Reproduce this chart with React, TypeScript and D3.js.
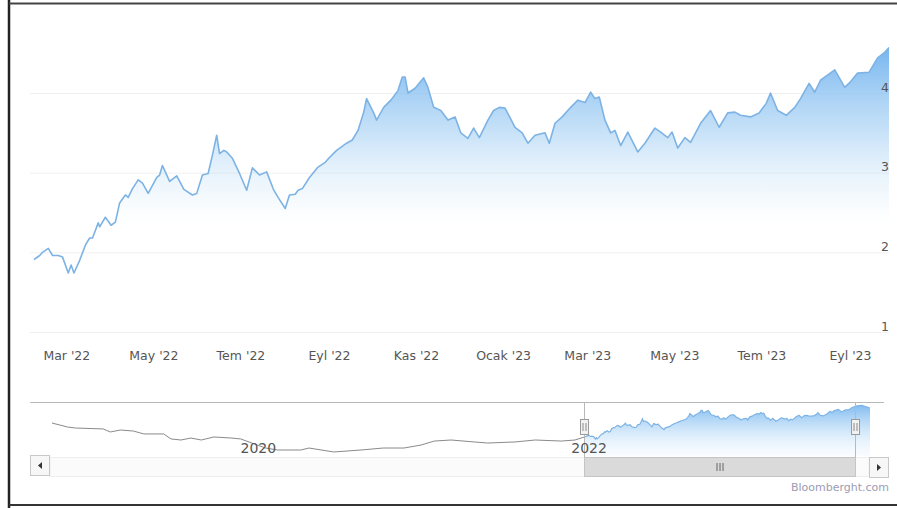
import React from 'react';
import * as d3 from 'd3';

// ---------- DATA ----------
const dates = [
  '2022-02-06','2022-02-10','2022-02-12','2022-02-16','2022-02-19','2022-02-23','2022-02-26','2022-03-02','2022-03-04','2022-03-06',
  '2022-03-10','2022-03-14','2022-03-17','2022-03-19','2022-03-23','2022-03-24','2022-03-28','2022-04-01','2022-04-04','2022-04-07',
  '2022-04-11','2022-04-13','2022-04-16','2022-04-20','2022-04-23','2022-04-27','2022-04-30','2022-05-03','2022-05-05','2022-05-07',
  '2022-05-12','2022-05-17','2022-05-22','2022-05-28','2022-05-31','2022-06-04','2022-06-08','2022-06-11','2022-06-14','2022-06-16',
  '2022-06-19','2022-06-21','2022-06-25','2022-06-30','2022-07-05','2022-07-09','2022-07-14','2022-07-19','2022-07-24','2022-07-27',
  '2022-08-01','2022-08-04','2022-08-08','2022-08-10','2022-08-13','2022-08-18','2022-08-24','2022-08-29','2022-09-01','2022-09-06',
  '2022-09-13','2022-09-17','2022-09-21','2022-09-25','2022-09-27','2022-10-02','2022-10-04','2022-10-09','2022-10-14','2022-10-19',
  '2022-10-22','2022-10-24','2022-10-26','2022-10-31','2022-11-06','2022-11-09','2022-11-13','2022-11-18','2022-11-23','2022-11-28',
  '2022-12-02','2022-12-07','2022-12-11','2022-12-15','2022-12-21','2022-12-25','2022-12-29','2023-01-02','2023-01-09','2023-01-14',
  '2023-01-18','2023-01-23','2023-01-30','2023-02-02','2023-02-06','2023-02-11','2023-02-17','2023-02-22','2023-02-27','2023-03-03',
  '2023-03-06','2023-03-09','2023-03-13','2023-03-17','2023-03-20','2023-03-24','2023-03-29','2023-04-05','2023-04-10','2023-04-17',
  '2023-04-21','2023-04-26','2023-04-29','2023-05-03','2023-05-08','2023-05-12','2023-05-19','2023-05-26','2023-06-01','2023-06-07',
  '2023-06-12','2023-06-16','2023-06-23','2023-06-29','2023-07-04','2023-07-07','2023-07-12','2023-07-18','2023-07-24','2023-07-28',
  '2023-08-03','2023-08-07','2023-08-11','2023-08-21','2023-08-28','2023-09-01','2023-09-06','2023-09-14','2023-09-20','2023-09-25',
  '2023-09-28',
];
const values = [
  1.91,1.96,2.00,2.05,1.96,1.96,1.94,1.74,1.84,1.74,
  1.90,2.09,2.18,2.18,2.37,2.32,2.44,2.34,2.38,2.62,
  2.72,2.69,2.80,2.91,2.87,2.74,2.84,2.94,2.97,3.09,
  2.89,2.96,2.79,2.72,2.74,2.97,2.99,3.22,3.47,3.24,
  3.28,3.26,3.18,2.99,2.78,3.06,2.97,3.01,2.78,2.69,
  2.55,2.72,2.73,2.78,2.80,2.94,3.07,3.13,3.19,3.28,
  3.37,3.41,3.53,3.76,3.93,3.75,3.66,3.82,3.91,4.03,
  4.20,4.20,4.00,4.06,4.19,4.07,3.82,3.78,3.66,3.70,
  3.50,3.43,3.56,3.44,3.66,3.78,3.82,3.81,3.57,3.50,
  3.37,3.47,3.50,3.37,3.62,3.70,3.82,3.91,3.88,4.01,
  3.93,3.95,3.66,3.50,3.53,3.34,3.51,3.26,3.37,3.56,
  3.51,3.44,3.51,3.31,3.44,3.38,3.62,3.78,3.57,3.75,
  3.76,3.72,3.70,3.75,3.87,4.00,3.78,3.72,3.82,3.93,
  4.12,4.01,4.16,4.29,4.07,4.14,4.25,4.26,4.44,4.51,
  4.57,
];

const xTickDates = ['2022-03-01','2022-05-01','2022-07-01','2022-09-01','2022-11-01','2023-01-01','2023-03-01','2023-05-01','2023-07-01','2023-09-01'];
const xTickLabels = ["Mar '22","May '22","Tem '22","Eyl '22","Kas '22","Ocak '23","Mar '23","May '23","Tem '23","Eyl '23"];
const yTicks = [1, 2, 3, 4];

// navigator: history before the selected range, and after it
const navHistDates = [
  '2018-11-17','2018-12-21','2019-01-08','2019-03-10','2019-03-26','2019-04-17','2019-05-16','2019-06-08','2019-07-22','2019-08-07',
  '2019-08-29','2019-09-20','2019-10-13','2019-11-10','2019-12-18','2020-01-08','2020-03-03','2020-03-30','2020-05-20','2020-06-07',
  '2020-08-01','2020-09-30','2020-11-18','2021-01-03','2021-02-10','2021-03-11','2021-04-17','2021-06-08','2021-07-07','2021-09-05',
  '2021-10-20','2021-12-17','2022-01-16',
];
const navHistValues = [
  3.11,2.77,2.68,2.60,2.34,2.51,2.42,2.17,2.17,1.74,
  1.65,1.82,1.65,1.91,1.82,1.74,0.96,0.79,0.79,0.96,
  0.62,0.79,0.96,0.96,1.22,1.56,1.65,1.48,1.39,1.48,
  1.65,1.56,1.65,
];
const navTailDates = ['2023-10-12','2023-10-30'];
const navTailValues = [4.62, 4.40];
const navYearDates = ['2020-01-01','2022-01-01'];
const navYearLabels = ['2020','2022'];
const creditText = 'Bloomberght.com';

type P = { date: Date; value: number };

export default function App() {
  const parse = d3.timeParse('%Y-%m-%d');
  const series: P[] = dates.map((d, i) => ({ date: parse(d)!, value: values[i] }));
  const hist: P[] = navHistDates.map((d, i) => ({ date: parse(d)!, value: navHistValues[i] }));
  const tail: P[] = navTailDates.map((d, i) => ({ date: parse(d)!, value: navTailValues[i] }));

  // main chart scales
  const plotBottom = 332;
  const x = d3.scaleTime().domain(d3.extent(series, d => d.date) as [Date, Date]).range([34, 889]);
  const y = d3.scaleLinear().domain([1, 4]).range([plotBottom, 93]);
  const line = d3.line<P>().x(d => x(d.date)).y(d => y(d.value));
  const area = d3.area<P>().x(d => x(d.date)).y0(plotBottom).y1(d => y(d.value));

  // navigator scales
  const navAll = [...hist, ...series, ...tail];
  const nx = d3.scaleTime().domain(d3.extent(navAll, d => d.date) as [Date, Date]).range([52, 870]);
  const ny = d3.scaleLinear().domain([0.36, 4.66]).range([455, 405]);
  const nLine = d3.line<P>().x(d => nx(d.date)).y(d => ny(d.value));
  const nArea = d3.area<P>().x(d => nx(d.date)).y0(456).y1(d => ny(d.value));
  const blueNav = [...series, ...tail];
  const grayNav = [...hist, series[0]];
  const selL = nx(series[0].date);
  const selR = nx(series[series.length - 1].date);

  const font = 'DejaVu Sans, Verdana, sans-serif';

  const handle = (hx: number) => (
    <g>
      <rect x={hx - 4} y={419.5} width={8} height={15} fill="#f2f2f2" stroke="#9a9a9a" strokeWidth={1} />
      <line x1={hx - 1.5} x2={hx - 1.5} y1={423} y2={431} stroke="#8a8a8a" />
      <line x1={hx + 1.5} x2={hx + 1.5} y1={423} y2={431} stroke="#8a8a8a" />
    </g>
  );

  const gripX = (selL + selR) / 2;

  return (
    <svg width={897} height={508} style={{ position: 'fixed', left: 0, top: 0, background: '#fff' }}>
      <defs>
        <linearGradient id="mainFill" gradientUnits="userSpaceOnUse" x1="0" y1="45" x2="0" y2="235">
          <stop offset="0" stopColor="rgb(108,176,238)" stopOpacity={0.95} />
          <stop offset="0.45" stopColor="rgb(160,205,243)" stopOpacity={0.6} />
          <stop offset="0.8" stopColor="rgb(210,232,248)" stopOpacity={0.25} />
          <stop offset="1" stopColor="rgb(255,255,255)" stopOpacity={0} />
        </linearGradient>
        <linearGradient id="navFill" gradientUnits="userSpaceOnUse" x1="0" y1="404" x2="0" y2="456">
          <stop offset="0" stopColor="rgb(110,178,238)" stopOpacity={0.9} />
          <stop offset="1" stopColor="rgb(220,238,252)" stopOpacity={0.15} />
        </linearGradient>
      </defs>

      {/* gridlines */}
      {yTicks.map(t => (
        <line key={t} x1={30} x2={889} y1={y(t) + 0.5} y2={y(t) + 0.5} stroke="#f0f0f0" strokeWidth={1} />
      ))}

      {/* main area + line */}
      <path d={area(series)!} fill="url(#mainFill)" />
      <path d={line(series)!} fill="none" stroke="#7db3e4" strokeWidth={1.6} strokeLinejoin="round" />

      {/* y labels */}
      {yTicks.map(t => (
        <text key={t} x={889} y={y(t) - 5} textAnchor="end" dominantBaseline="middle"
          fontFamily={font} fontSize={12.5} fill="#555">{t}</text>
      ))}

      {/* x labels */}
      {xTickDates.map((d, i) => (
        <text key={d} x={x(parse(d)!)} y={360} textAnchor="middle" fontFamily={font} fontSize={12.5} fill="#555">
          {xTickLabels[i]}
        </text>
      ))}

      {/* navigator */}
      <path d={nArea(blueNav)!} fill="url(#navFill)" />
      <path d={nLine(blueNav)!} fill="none" stroke="#7db3e4" strokeWidth={1.2} />
      <path d={nLine(grayNav)!} fill="none" stroke="#8a8a8a" strokeWidth={1} />
      <line x1={30} x2={884} y1={402.5} y2={402.5} stroke="#b8b8b8" strokeWidth={1} />
      <line x1={selL} x2={selL} y1={402.5} y2={457} stroke="#b8b8b8" strokeWidth={1} />
      <line x1={selR} x2={selR} y1={402.5} y2={457} stroke="#b8b8b8" strokeWidth={1} />
      {handle(selL)}
      {handle(selR)}
      {navYearDates.map((d, i) => (
        <text key={d} x={nx(parse(d)!) + 3} y={453} fontFamily={font} fontSize={14} fill="#555">
          {navYearLabels[i]}
        </text>
      ))}

      {/* scrollbar */}
      <rect x={50} y={457.5} width={819} height={19} fill="#fbfbfb" stroke="#eeeeee" />
      <rect x={selL} y={457.5} width={selR - selL} height={19} fill="#dadada" stroke="#c4c4c4" />
      {[-3, 0, 3].map(o => (
        <line key={o} x1={gripX + o} x2={gripX + o} y1={463} y2={471} stroke="#666" strokeWidth={1} />
      ))}
      <rect x={30.5} y={455.5} width={19} height={20} fill="#f7f7f7" stroke="#c8c8c8" />
      <path d="M 42 462 L 38 465.5 L 42 469 Z" fill="#333" />
      <rect x={869.5} y={457.5} width={19} height={20} fill="#f7f7f7" stroke="#c8c8c8" />
      <path d="M 877 464 L 881 467.5 L 877 471 Z" fill="#333" />

      {/* credit */}
      <text x={889} y={491} textAnchor="end" fontFamily={font} fontSize={11} fill="#9c9cb4">{creditText}</text>

      {/* scanned page frame */}
      <line x1={9} x2={9} y1={0} y2={508} stroke="#222" strokeWidth={2.5} />
      <line x1={9} x2={897} y1={3.5} y2={3.5} stroke="#444" strokeWidth={2} />
      <line x1={9} x2={897} y1={505} y2={505} stroke="#333" strokeWidth={2} />
    </svg>
  );
}
